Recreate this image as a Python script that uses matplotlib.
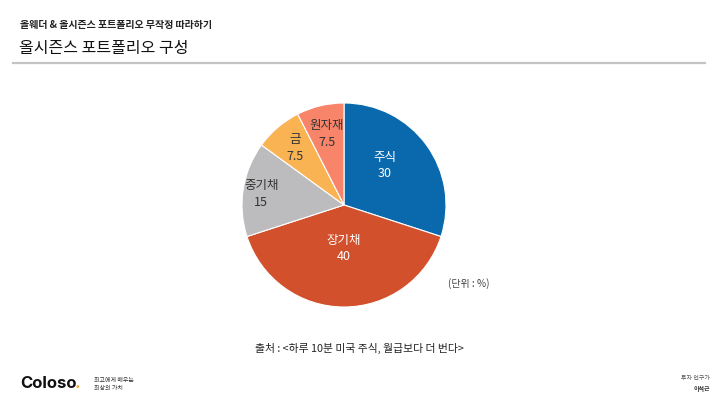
import numpy as np
import matplotlib
matplotlib.use("Agg")
import matplotlib.pyplot as plt

plt.rcParams['font.family'] = ['Noto Sans CJK KR', 'DejaVu Sans']

# data
assets = ['주식', '장기채', '중기채', '금', '원자재']
weights = [30, 40, 15, 7.5, 7.5]
value_labels = ['30', '40', '15', '7.5', '7.5']
colors = ['#0a69ad', '#d2502c', '#bcbcbe', '#f9b352', '#f8846a']
text_colors = ['white', 'white', '#333333', '#333333', '#333333']

W, H = 720, 405
fig = plt.figure(figsize=(7.2, 4.05), dpi=100)
fig.patch.set_facecolor('white')

def fx(px):
    return px / W

def fy(py):
    return 1 - py / H

# header
fig.text(fx(20), fy(25), '올웨더 & 올시즌스 포트폴리오 무작정 따라하기', fontsize=7.2,
         fontweight='bold', color='#222222', va='center', ha='left')
fig.text(fx(19), fy(48), '올시즌스 포트폴리오 구성', fontsize=11.5,
         color='#111111', va='center', ha='left')
fig.add_artist(plt.Line2D([fx(13), fx(705)], [fy(63), fy(63)], color='#c4c4c4', lw=1.6))

# pie
cx, cy, r = 344, 205, 102
ax = fig.add_axes([fx(cx - r), fy(cy + r), 2 * r / W, 2 * r / H])
wedges, _ = ax.pie(weights, colors=colors, startangle=90, counterclock=False,
                   wedgeprops=dict(edgecolor='white', linewidth=0.8))
ax.set_xlim(-1, 1)
ax.set_ylim(-1, 1)
ax.set_aspect('auto')
ax.axis('off')

label_r = [0.56, 0.42, 0.82, 0.74, 0.72]
angle_shift = [8, 0, 1, 0, 0]
for w, name, val, tc, lr, sh in zip(wedges, assets, value_labels, text_colors, label_r, angle_shift):
    mid = np.deg2rad((w.theta1 + w.theta2) / 2 + sh)
    x, y = lr * np.cos(mid), lr * np.sin(mid)
    ax.text(x, y + 0.075, name, ha='center', va='center', fontsize=9, color=tc)
    ax.text(x, y - 0.085, val, ha='center', va='center', fontsize=9, color=tc)

fig.text(fx(448), fy(284), '(단위 : %)', fontsize=7.2, color='#444444', va='center', ha='left')
fig.text(fx(359), fy(348), '출처 : <하루 10분 미국 주식, 월급보다 더 번다>', fontsize=7.8,
         color='#222222', va='center', ha='center')

# footer
fig.text(fx(20), fy(384), 'Coloso', fontsize=12, fontweight='bold', family='Inter',
         color='#111111', va='center', ha='left')
fig.text(fx(75), fy(384), '.', fontsize=12, fontweight='bold', family='Inter',
         color='#f5a623', va='center', ha='left')
fig.text(fx(94), fy(380), '최고에게 배우는', fontsize=4.3, color='#333333', va='center', ha='left')
fig.text(fx(94), fy(389), '최상의 가치', fontsize=4.3, color='#333333', va='center', ha='left')
fig.text(fx(710), fy(378), '투자 연구가', fontsize=4.3, color='#555555', va='center', ha='right')
fig.text(fx(710), fy(388), '이석근', fontsize=4.3, fontweight='bold', color='#333333',
         va='center', ha='right')

fig.savefig('out.png', dpi=100, facecolor='white')
